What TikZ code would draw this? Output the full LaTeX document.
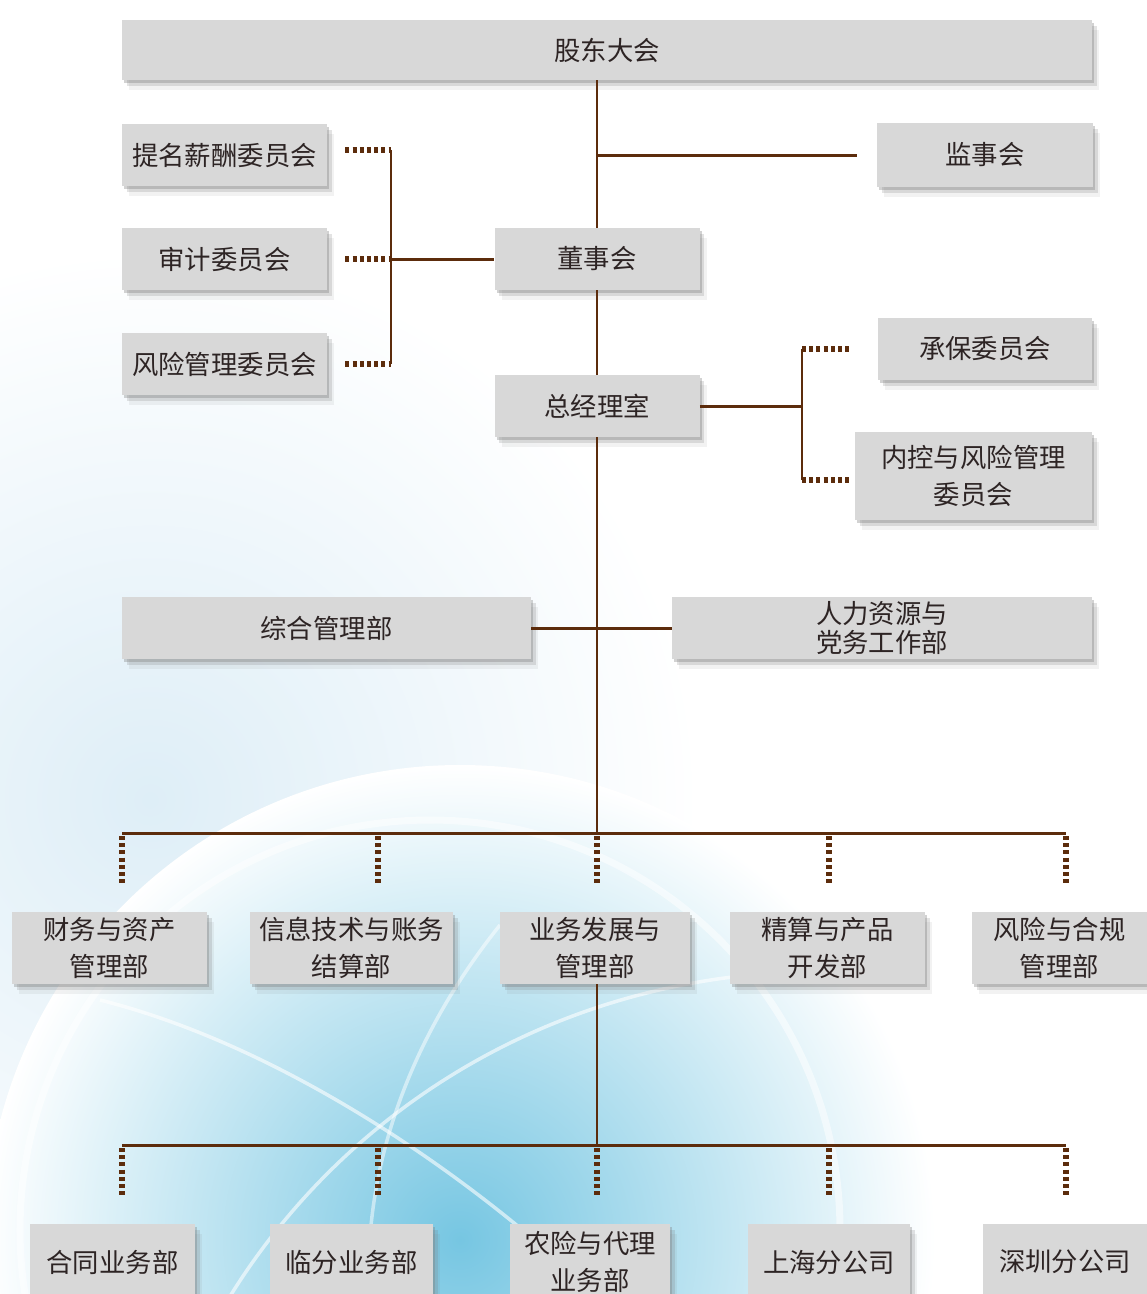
\documentclass[tikz,border=0pt]{standalone}
\usepackage{fontspec}
\newfontfamily\cjk{Noto Sans CJK SC}
\usepackage{tikz}
\usetikzlibrary{shadows, calc, positioning}

\definecolor{linkbrown}{RGB}{92,44,12}
\definecolor{boxgray}{RGB}{216,216,216}
\definecolor{textgray}{RGB}{45,36,36}
\definecolor{globeblue}{RGB}{118,198,226}
\definecolor{washblue}{RGB}{222,238,247}

\begin{document}
\begin{tikzpicture}[
        unit/.style={rectangle, fill=boxgray, text=textgray, align=center, inner sep=0pt, font=\cjk\fontsize{15}{21}\selectfont,
            drop shadow={shadow xshift=0.04cm, shadow yshift=-0.05cm, opacity=0.35},
            drop shadow={shadow xshift=0.09cm, shadow yshift=-0.12cm, opacity=0.22},
            drop shadow={shadow xshift=0.14cm, shadow yshift=-0.2cm, opacity=0.1}},
        link/.style={draw=linkbrown, line width=1.7pt},
        dotlink/.style={draw=linkbrown, line width=3pt, dash pattern=on 2.3pt off 1.8pt}
    ]
        \useasboundingbox (0,0) rectangle (22.94,-25.88);
        \begin{scope}
            \clip (0,0) rectangle (22.94,-25.88);
            \fill[white] (0,0) rectangle (22.94,-25.88);
            \shade[inner color=washblue, outer color=white] (3,-16) circle (11cm);
            \shade[inner color=globeblue, outer color=white] (9.2,-24.8) circle (9.5cm);
            \draw[white, line width=4pt, opacity=0.5] (8.6,-24.6) circle (8.2cm);
            \draw[white, line width=2pt, opacity=0.6] (2,-20) .. controls (6,-21) and (10,-24) .. (12,-26);
            \draw[white, line width=2pt, opacity=0.6] (4,-27) .. controls (6,-23) and (10,-20) .. (15,-19.5);
            \draw[white, line width=2pt, opacity=0.5] (7.5,-27) .. controls (7,-24) and (8,-21) .. (10,-18.5);
        \end{scope}

        \node[unit, minimum width=19.4cm, minimum height=1.2cm] (gdh) at (12.14,-1.0) {股东大会};
        \node[unit, minimum width=4.32cm, minimum height=1.28cm] (jsh) at (19.7,-3.1) {监事会};
        \node[unit, minimum width=4.1cm, minimum height=1.24cm] (tm) at (4.49,-3.1) {提名薪酬委员会};
        \node[unit, minimum width=4.1cm, minimum height=1.24cm] (sj) at (4.49,-5.18) {审计委员会};
        \node[unit, minimum width=4.1cm, minimum height=1.24cm] (fx) at (4.49,-7.28) {风险管理委员会};
        \node[unit, minimum width=4.1cm, minimum height=1.24cm] (dsh) at (11.94,-5.18) {董事会};
        \node[unit, minimum width=4.1cm, minimum height=1.24cm] (zjl) at (11.94,-8.12) {总经理室};
        \node[unit, minimum width=4.28cm, minimum height=1.24cm] (cb) at (19.7,-6.98) {承保委员会};
        \node[unit, minimum width=4.74cm, minimum height=1.76cm] (nk) at (19.47,-9.52) {内控与风险管理\\委员会};
        \node[unit, minimum width=8.18cm, minimum height=1.24cm] (zh) at (6.53,-12.56) {综合管理部};
        \node[unit, minimum width=8.4cm, minimum height=1.24cm, font=\cjk\fontsize{15}{16}\selectfont] (rl) at (17.64,-12.56) {人力资源与\\党务工作部};

        \node[unit, minimum width=3.9cm, minimum height=1.44cm] (cw) at (2.19,-18.96) {财务与资产\\管理部};
        \node[unit, minimum width=4.06cm, minimum height=1.44cm] (xx) at (7.03,-18.96) {信息技术与账务\\结算部};
        \node[unit, minimum width=3.8cm, minimum height=1.44cm] (yw) at (11.9,-18.96) {业务发展与\\管理部};
        \node[unit, minimum width=3.9cm, minimum height=1.44cm] (js) at (16.55,-18.96) {精算与产品\\开发部};
        \node[unit, minimum width=3.5cm, minimum height=1.44cm] (hg) at (21.19,-18.96) {风险与合规\\管理部};

        \node[unit, minimum width=3.3cm, minimum height=1.52cm] (ht) at (2.25,-25.24) {合同业务部};
        \node[unit, minimum width=3.26cm, minimum height=1.52cm] (lf) at (7.03,-25.24) {临分业务部};
        \node[unit, minimum width=3.2cm, minimum height=1.52cm] (nx) at (11.8,-25.24) {农险与代理\\业务部};
        \node[unit, minimum width=3.24cm, minimum height=1.52cm] (sh) at (16.58,-25.24) {上海分公司};
        \node[unit, minimum width=3.28cm, minimum height=1.52cm] (sz) at (21.3,-25.24) {深圳分公司};

        \coordinate (brd) at (7.82,-5.18);
        \coordinate (kz) at (16.04,-8.12);
        \coordinate (bus1) at (11.94,-16.66);
        \coordinate (bus2) at (11.94,-22.9);

        \draw[link] (gdh.south -| dsh) -- (dsh);
        \draw[link] (dsh) -- (zjl);
        \draw[link] (zjl) -- (bus1);
        \draw[link] (dsh |- jsh) -- ([xshift=-0.4cm]jsh.west);

        \draw[link] (brd) -- (dsh);
        \draw[link] ([yshift=0.1cm]brd |- tm) -- (brd |- fx);
        \draw[dotlink] ([xshift=0.36cm, yshift=0.1cm]tm.east) -- ([yshift=0.1cm]brd |- tm);
        \draw[dotlink] ([xshift=0.36cm]sj.east) -- (brd |- sj);
        \draw[dotlink] ([xshift=0.36cm]fx.east) -- (brd |- fx);

        \draw[link] (zjl) -- (kz);
        \draw[link] (kz |- cb) -- ([yshift=-0.08cm]kz |- nk);
        \draw[dotlink] (kz |- cb) -- ([xshift=-0.56cm]cb.west);
        \draw[dotlink] ([yshift=-0.08cm]kz |- nk) -- ([xshift=-0.1cm, yshift=-0.08cm]nk.west);

        \draw[link] (zh) -- (rl);

        \draw[link] (2.44,-16.66) -- (21.32,-16.66);
        \foreach \x [count=\i] in {2.44,7.56,11.94,16.58,21.32} {
            \coordinate (d\i) at (\x,-16.72);
            \draw[dotlink] (d\i) -- ++(0,-0.98);
        }

        \draw[link] (yw.south -| bus2) -- (bus2);
        \draw[link] (2.44,-22.9) -- (21.32,-22.9);
        \foreach \x [count=\i] in {2.44,7.56,11.94,16.58,21.32} {
            \coordinate (e\i) at (\x,-22.96);
            \draw[dotlink] (e\i) -- ++(0,-0.98);
        }
    \end{tikzpicture}
\end{document}
